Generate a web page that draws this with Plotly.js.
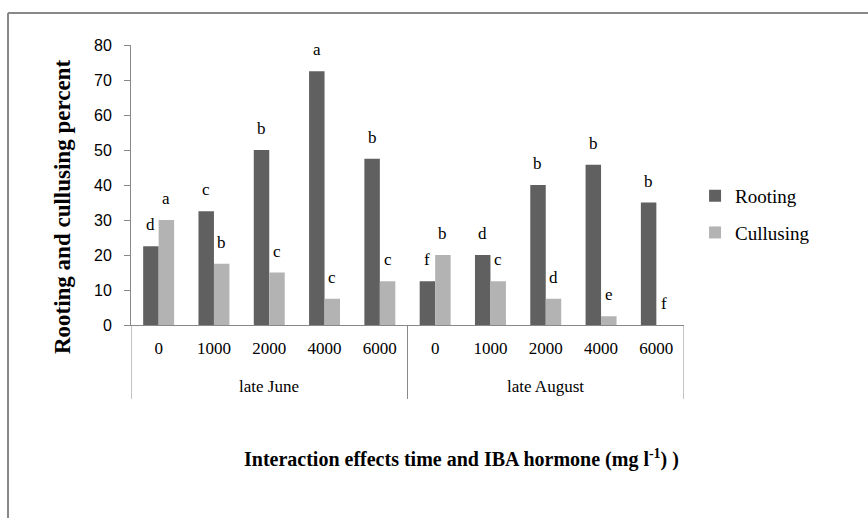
<!DOCTYPE html>
<html>
<head>
<meta charset="utf-8">
<script src="https://cdn.plot.ly/plotly-3.0.1.min.js"></script>
<style>
  html, body { margin: 0; padding: 0; background: #fff; }
  #chart { width: 868px; height: 518px; }
</style>
</head>
<body>
<div id="chart"></div>
<script>
// ---- data ----
const periods = ["late June", "late August"];
const doses = ["0", "1000", "2000", "4000", "6000"];
const rooting = [22.5, 32.5, 50, 72.5, 47.5, 12.5, 20, 40, 45.8, 35];
const cullusing = [30, 17.5, 15, 7.5, 12.5, 20, 12.5, 7.5, 2.5, 0];
const rootingLetters = ["d", "c", "b", "a", "b", "f", "d", "b", "b", "b"];
const cullusingLetters = ["a", "b", "c", "c", "c", "b", "c", "d", "e", "f"];
const yTicks = [0, 10, 20, 30, 40, 50, 60, 70, 80];

// category positions and labels built from the arrays
const xPos = [], xText = [];
periods.forEach((p, g) => doses.forEach((d, k) => { xPos.push(g * doses.length + k); xText.push(d); }));

const serif = "Liberation Serif, Times New Roman, serif";
const sans = "Liberation Sans, Arial, sans-serif";

const traces = [
  { type: "bar", name: "Rooting", x: xPos, y: rooting,
    marker: { color: "#606060" }, legendgroup: "r", hoverinfo: "skip" },
  { type: "bar", name: "Cullusing", x: xPos, y: cullusing,
    marker: { color: "#b3b3b3" }, legendgroup: "c", hoverinfo: "skip" }
];

const barHalf = 7.8; // pixel offset of each bar centre within a group
const annotations = [];
xPos.forEach((x, i) => {
  annotations.push({ xref: "x", yref: "y", x: x, y: rooting[i], text: rootingLetters[i],
    showarrow: false, xanchor: "center", yanchor: "bottom", xshift: -barHalf, yshift: 10,
    font: { family: serif, size: 17, color: "#000" } });
  annotations.push({ xref: "x", yref: "y", x: x, y: cullusing[i], text: cullusingLetters[i],
    showarrow: false, xanchor: "center", yanchor: "bottom", xshift: barHalf, yshift: 10,
    font: { family: serif, size: 17, color: "#000" } });
});
// period (second level) labels
periods.forEach((p, g) => {
  annotations.push({ xref: "x", yref: "paper", x: g * doses.length + (doses.length - 1) / 2,
    y: -0.221, text: p, showarrow: false, xanchor: "center", yanchor: "middle",
    font: { family: serif, size: 17, color: "#000" } });
});
annotations.push({ xref: "paper", yref: "paper", x: -0.1248, y: 0.421,
  text: "<b>Rooting and cullusing percent</b>", textangle: -90, showarrow: false,
  xanchor: "center", yanchor: "middle", font: { family: serif, size: 23, color: "#000" } });
annotations.push({ xref: "paper", yref: "paper", x: 0.597, y: -0.475,
  text: "<b>Interaction effects time and IBA hormone (mg l<sup>-1</sup>) )</b>", showarrow: false,
  xanchor: "center", yanchor: "middle", font: { family: serif, size: 20, color: "#000" } });

// group divider lines
const shapes = [];
for (let g = 0; g <= periods.length; g++) {
  shapes.push({ type: "line", xref: "x", yref: "paper", x0: g * doses.length - 0.5, x1: g * doses.length - 0.5,
    y0: 0, y1: -0.264, line: { color: "#888", width: 1 } });
}
// outer chart border (top and left visible in the reference)
shapes.push({ type: "line", xref: "paper", yref: "paper", x0: -0.2224, x1: 1.34, y0: 1.1143, y1: 1.1143,
  line: { color: "#888", width: 2 } });
shapes.push({ type: "line", xref: "paper", yref: "paper", x0: -0.2224, x1: -0.2224, y0: 1.1143, y1: -0.7,
  line: { color: "#888", width: 2 } });

const layout = {
  width: 868, height: 518,
  margin: { l: 131, r: 184, t: 45, b: 193 },
  paper_bgcolor: "#fff", plot_bgcolor: "#fff",
  barmode: "group", bargap: 0.44, bargroupgap: 0,
  showlegend: true,
  legend: { x: 1.02, xanchor: "left", y: 0.395, yanchor: "middle",
    font: { family: serif, size: 19, color: "#000" },
    traceorder: "grouped", tracegroupgap: 9, bgcolor: "rgba(0,0,0,0)" },
  xaxis: { type: "linear", range: [-0.5, 9.5], tickvals: xPos, ticktext: xText,
    showline: true, linecolor: "#888", linewidth: 1,
    ticks: "", showgrid: false, zeroline: false, ticklabelstandoff: 8,
    tickfont: { family: serif, size: 17, color: "#000" } },
  yaxis: { range: [0, 80], tickvals: yTicks, showline: true, linecolor: "#888", linewidth: 1,
    ticks: "outside", ticklen: 6, tickcolor: "#888", showgrid: false, zeroline: false,
    ticklabelstandoff: 9,
    tickfont: { family: sans, size: 16, color: "#000" } },
  annotations: annotations,
  shapes: shapes
};

Plotly.newPlot("chart", traces, layout, { staticPlot: true, displayModeBar: false });
</script>
</body>
</html>
